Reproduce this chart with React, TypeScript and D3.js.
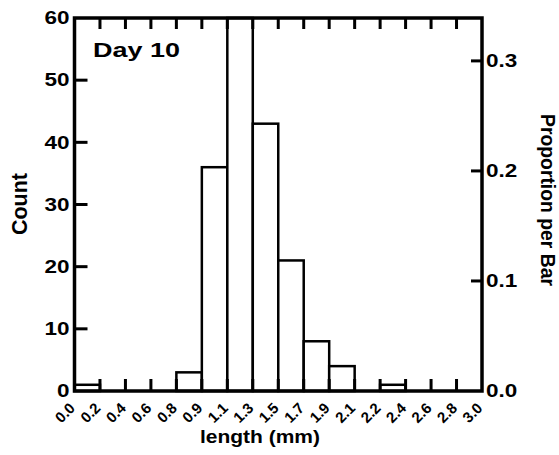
import React from 'react';
import * as d3 from 'd3';

const binEdges = [0, 0.1875, 0.375, 0.5625, 0.75, 0.9375, 1.125, 1.3125, 1.5, 1.6875, 1.875, 2.0625, 2.25, 2.4375, 2.625, 2.8125, 3.0];
const tickLabels = ["0.0", "0.2", "0.4", "0.6", "0.8", "0.9", "1.1", "1.3", "1.5", "1.7", "1.9", "2.1", "2.2", "2.4", "2.6", "2.8", "3.0"];
const counts = [1, 0, 0, 0, 3, 36, 60, 43, 21, 8, 4, 0, 1, 0, 0, 0];
const countTicks = [0, 10, 20, 30, 40, 50, 60];
const proportionTicks = [0, 0.1, 0.2, 0.3];
const proportionLabels = ["0.0", "0.1", "0.2", "0.3"];
const title = "Day 10";
const xTitle = "length (mm)";
const yTitle = "Count";
const y2Title = "Proportion per Bar";

const FONT = "'Liberation Sans', Arial, Helvetica, sans-serif";

function T({ x, y, rot = 0, sx = 1, anchor = 'start', baseline = 'alphabetic', size, children, len }: any) {
  return (
    <g transform={`translate(${x},${y}) rotate(${rot}) scale(${sx},1)`}>
      <text
        x={0}
        y={0}
        textAnchor={anchor}
        dominantBaseline={baseline}
        fontSize={size}
        fontWeight="bold"
        fontFamily={FONT}
        fill="#000"
        textLength={len}
        lengthAdjust={len ? 'spacingAndGlyphs' : undefined}
      >
        {children}
      </text>
    </g>
  );
}

export default function App() {
  const W = 559, H = 455;
  const L = 74.5, R = 482, TOP = 18, B = 391;
  const x = d3.scaleLinear().domain([0, 3]).range([L, R]);
  const y = d3.scaleLinear().domain([0, 60]).range([B, TOP]);
  const total = d3.sum(counts);
  const yP = d3.scaleLinear().domain([0, 60 / total]).range([B, TOP]);
  const innerEdges = binEdges.slice(1, -1);

  const tickRects: { x: number; y: number; w: number; h: number }[] = [];
  innerEdges.forEach((e) => {
    tickRects.push({ x: x(e) - 1.5, y: B - 12, w: 3, h: 12 });
    tickRects.push({ x: x(e) - 1.5, y: TOP, w: 3, h: 11 });
  });
  countTicks.slice(1, -1).forEach((v) => {
    tickRects.push({ x: L, y: y(v) - 1.5, w: 13, h: 3 });
  });
  proportionTicks.slice(1).forEach((v) => {
    tickRects.push({ x: R - 11, y: yP(v) - 1.5, w: 11, h: 3 });
  });

  return (
    <svg width={W} height={H} style={{ position: 'absolute', left: 0, top: 0, background: '#fff' }}>
      <rect x={0} y={0} width={W} height={H} fill="#fff" />
      {counts.map((c, i) =>
        c > 0 ? (
          <rect
            key={i}
            x={x(binEdges[i])}
            y={Math.max(y(c), TOP)}
            width={x(binEdges[i + 1]) - x(binEdges[i])}
            height={B - Math.max(y(c), TOP)}
            fill="#fff"
            stroke="#000"
            strokeWidth={2.5}
          />
        ) : null
      )}
      <rect x={L} y={TOP} width={R - L} height={B - TOP} fill="none" stroke="#000" strokeWidth={3.5} />
      <g>
        {tickRects.map((r, i) => (
          <rect key={'tk' + i} x={r.x} y={r.y} width={r.w} height={r.h} fill="#000" />
        ))}
      </g>
      {countTicks.map((v) => (
        <T key={'lt' + v} x={69.5} y={y(v)} anchor="end" baseline="central" size={18} sx={1.25}>
          {String(v)}
        </T>
      ))}
      {proportionTicks.map((v, i) => (
        <T key={'rt' + v} x={486} y={yP(v)} anchor="start" baseline="central" size={18} sx={1.25}>
          {proportionLabels[i]}
        </T>
      ))}
      {binEdges.map((e, i) => (
        <T key={'xt' + i} x={x(e) + 1.5} y={409} rot={-45} anchor="end" size={15}>
          {tickLabels[i]}
        </T>
      ))}
      <T x={93} y={57} size={20} len={87}>{title}</T>
      <T x={260} y={443} anchor="middle" size={18.5} len={120}>{xTitle}</T>
      <T x={26.5} y={204} rot={-90} anchor="middle" size={22} len={62}>{yTitle}</T>
      <T x={540.5} y={200} rot={90} anchor="middle" size={19.5} len={172}>{y2Title}</T>
    </svg>
  );
}
